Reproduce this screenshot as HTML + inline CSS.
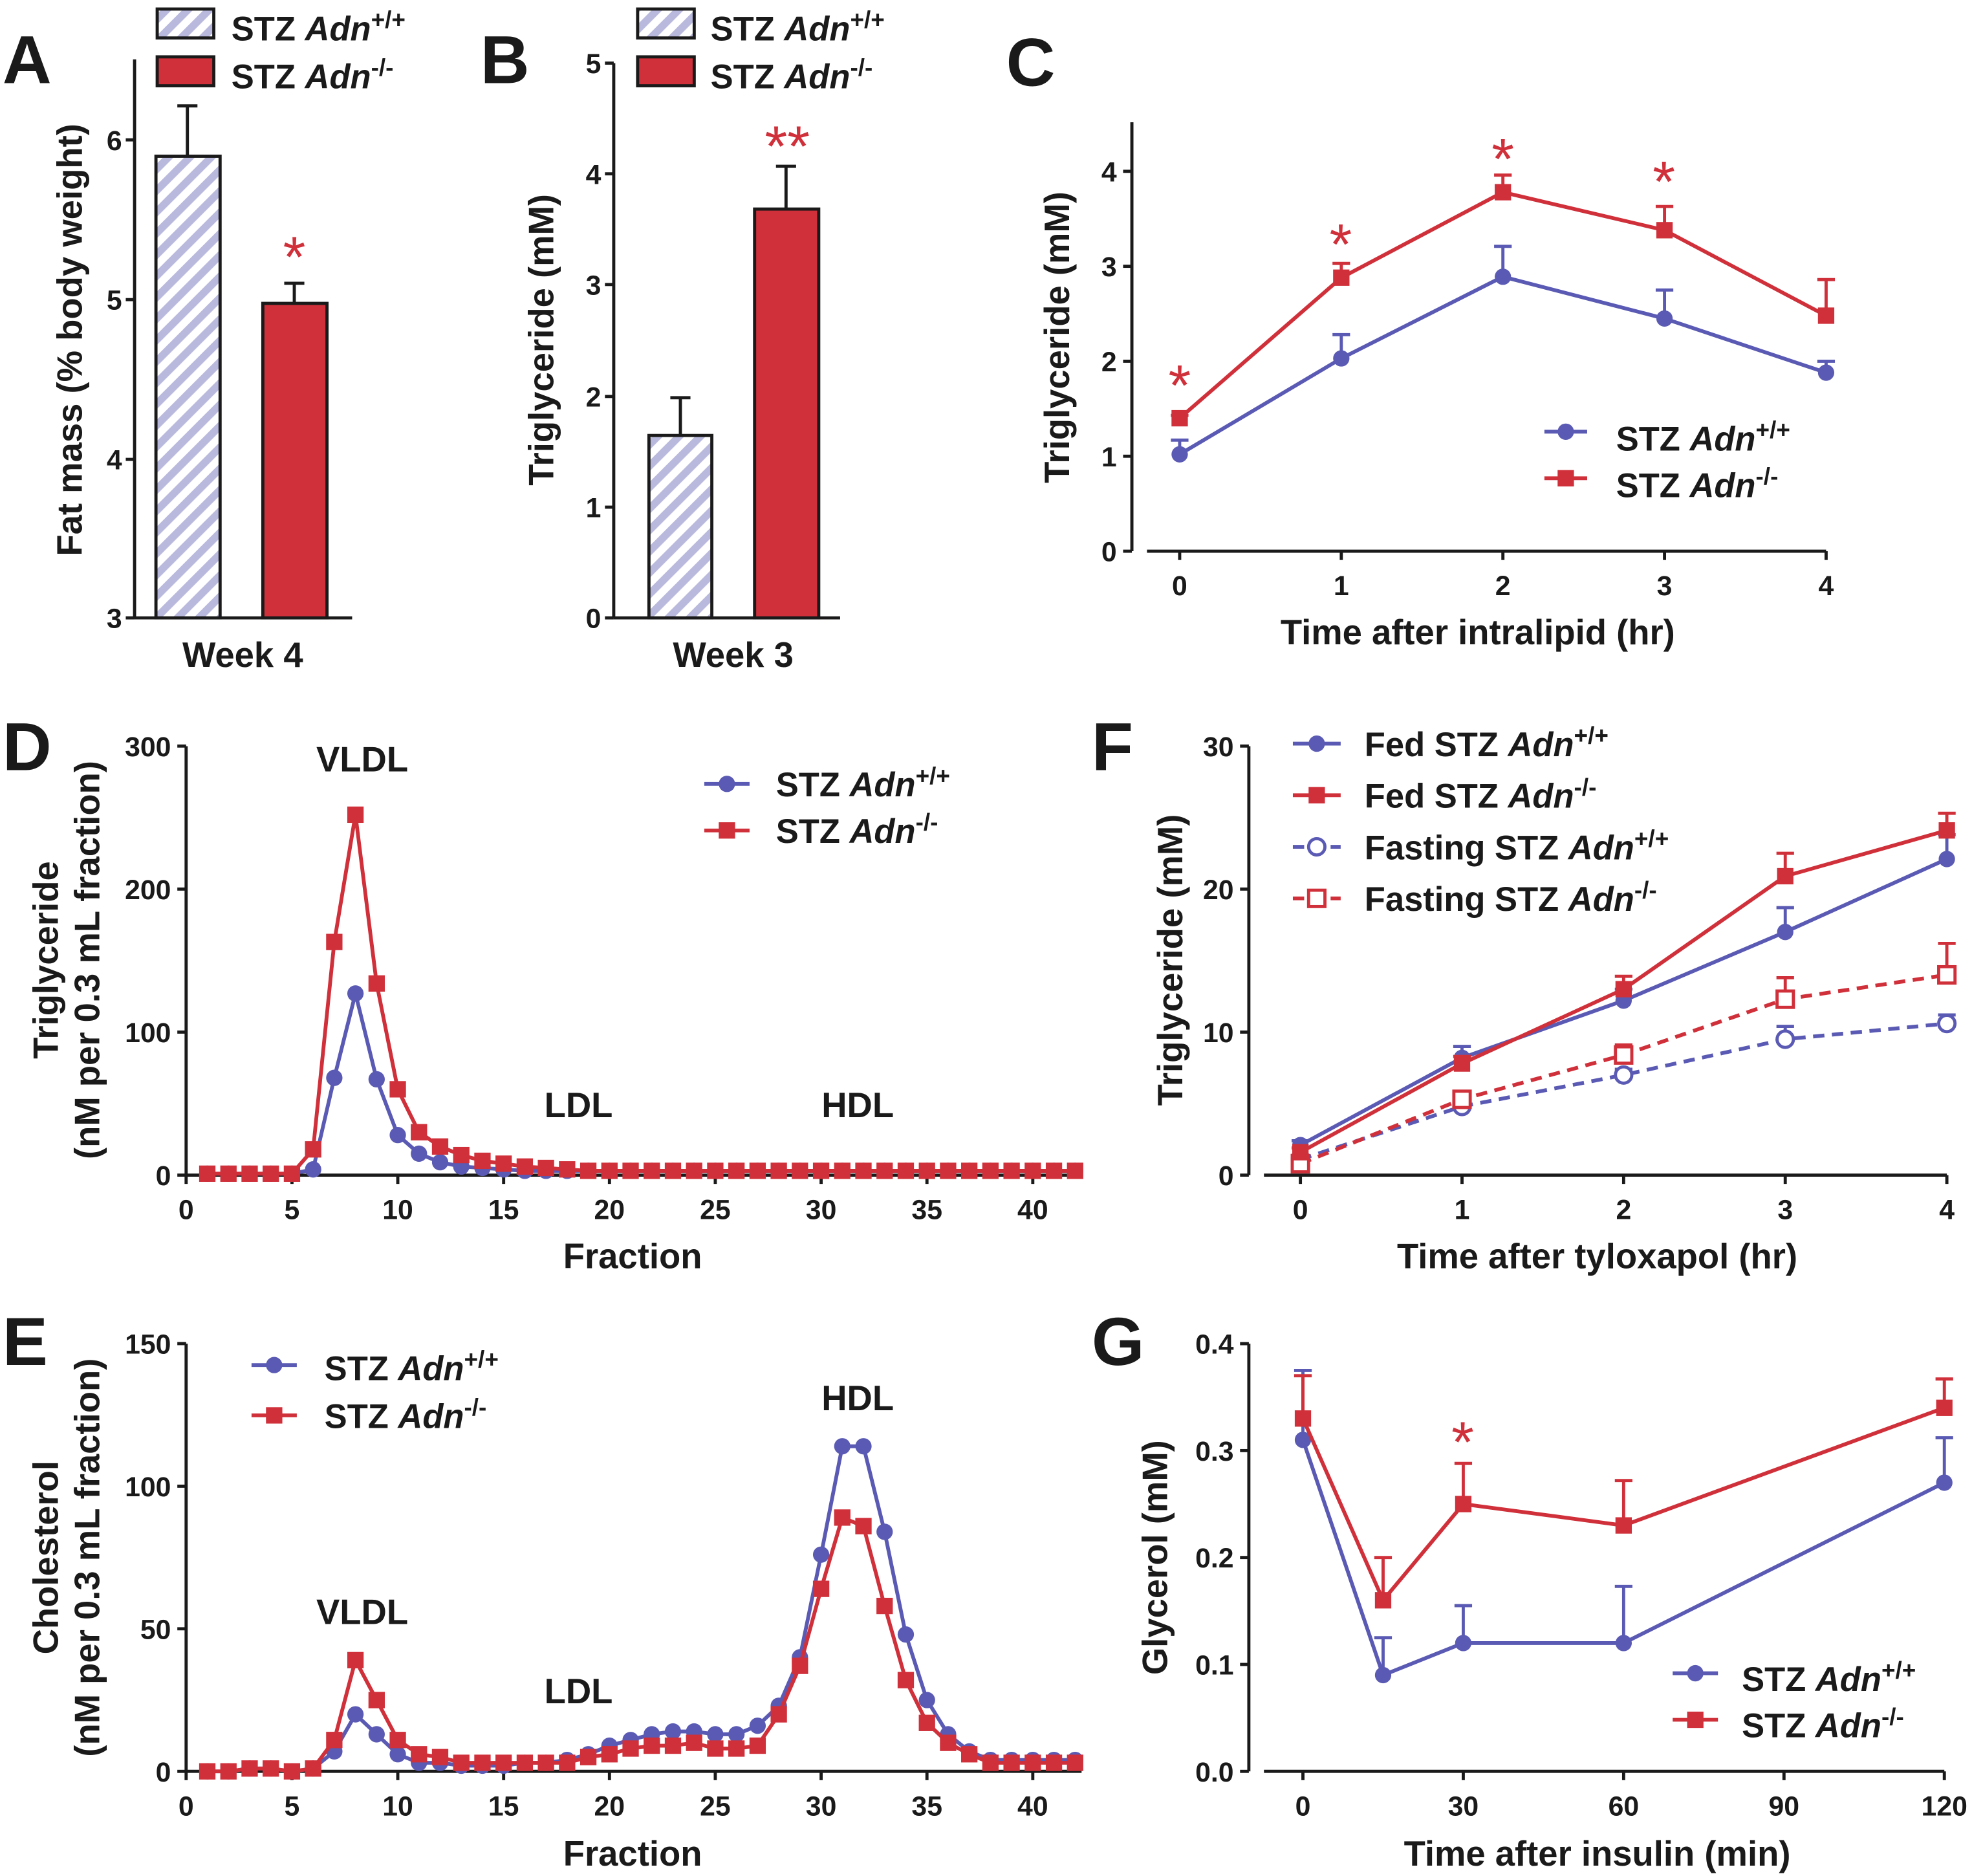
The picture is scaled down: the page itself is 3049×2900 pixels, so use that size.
<!DOCTYPE html>
<html><head><meta charset="utf-8"><style>
html,body{margin:0;padding:0;background:#fff}
svg{display:block}
text{font-family:"Liberation Sans",Arial,sans-serif;font-weight:bold;fill:#1a1a1a}
.t{font-size:22px}.al{font-size:28px}.lg{font-size:27px}.L{font-size:54px}
.st{fill:#d0303a;font-size:46px;font-weight:normal}
</style></head><body>
<svg id="s" width="3049" height="2900" viewBox="0 0 1568 1491" xmlns="http://www.w3.org/2000/svg">
<defs>
<pattern id="h" width="12" height="12" patternUnits="userSpaceOnUse" patternTransform="rotate(45)">
<rect width="12" height="12" fill="#fff"/><rect width="6" height="12" fill="#b9b9dd"/></pattern>
</defs>
<g id="g" stroke="#1a1a1a" stroke-width="2.5" fill="none"></g>
<!-- Panel letters -->
<text class="L" x="2" y="66">A</text><text class="L" x="382" y="66">B</text><text class="L" x="800" y="68">C</text>
<text class="L" x="2" y="612">D</text><text class="L" x="868" y="612">F</text>
<text class="L" x="2" y="1085">E</text><text class="L" x="868" y="1085">G</text>
<!-- A -->
<rect x="125" y="7" width="45" height="23" fill="url(#h)" stroke="#1a1a1a" stroke-width="2.5"/>
<rect x="125" y="45" width="45" height="23" fill="#d0303a" stroke="#1a1a1a" stroke-width="2.5"/>
<text class="lg" x="184" y="32">STZ <tspan font-style="italic">Adn</tspan><tspan dy="-10" font-size="19">+/+</tspan></text>
<text class="lg" x="184" y="70">STZ <tspan font-style="italic">Adn</tspan><tspan dy="-10" font-size="19">-/-</tspan></text>
<rect x="124" y="124" width="51" height="367" fill="url(#h)" stroke="#1a1a1a" stroke-width="2.5"/>
<rect x="209" y="241" width="51" height="250" fill="#d0303a" stroke="#1a1a1a" stroke-width="2.5"/>
<text class="st" x="234" y="220" text-anchor="middle">*</text>
<text class="t" x="97" y="119" text-anchor="end">6</text><text class="t" x="97" y="246" text-anchor="end">5</text>
<text class="t" x="97" y="373" text-anchor="end">4</text><text class="t" x="97" y="499" text-anchor="end">3</text>
<text class="al" x="193" y="530" text-anchor="middle">Week 4</text>
<text class="al" transform="translate(65,270) rotate(-90)" text-anchor="middle">Fat mass (% body weight)</text>
<!-- B -->
<rect x="507" y="7" width="45" height="23" fill="url(#h)" stroke="#1a1a1a" stroke-width="2.5"/>
<rect x="507" y="45" width="45" height="23" fill="#d0303a" stroke="#1a1a1a" stroke-width="2.5"/>
<text class="lg" x="565" y="32">STZ <tspan font-style="italic">Adn</tspan><tspan dy="-10" font-size="19">+/+</tspan></text>
<text class="lg" x="565" y="70">STZ <tspan font-style="italic">Adn</tspan><tspan dy="-10" font-size="19">-/-</tspan></text>
<rect x="516" y="346" width="50" height="145" fill="url(#h)" stroke="#1a1a1a" stroke-width="2.5"/>
<rect x="600" y="166" width="51" height="325" fill="#d0303a" stroke="#1a1a1a" stroke-width="2.5"/>
<text class="st" x="626" y="132" text-anchor="middle">**</text>
<text class="t" x="478" y="499" text-anchor="end">0</text><text class="t" x="478" y="411" text-anchor="end">1</text>
<text class="t" x="478" y="323" text-anchor="end">2</text><text class="t" x="478" y="234" text-anchor="end">3</text>
<text class="t" x="478" y="146" text-anchor="end">4</text><text class="t" x="478" y="58" text-anchor="end">5</text>
<text class="al" x="583" y="530" text-anchor="middle">Week 3</text>
<text class="al" transform="translate(440,270) rotate(-90)" text-anchor="middle">Triglyceride (mM)</text>
<!-- C -->
<text class="al" x="1175" y="512" text-anchor="middle">Time after intralipid (hr)</text>
<text class="al" transform="translate(850,268) rotate(-90)" text-anchor="middle">Triglyceride (mM)</text>
<text class="lg" x="1285" y="358">STZ <tspan font-style="italic">Adn</tspan><tspan dy="-10" font-size="19">+/+</tspan></text>
<text class="lg" x="1285" y="395">STZ <tspan font-style="italic">Adn</tspan><tspan dy="-10" font-size="19">-/-</tspan></text>
<text class="st" x="938" y="322" text-anchor="middle">*</text>
<text class="st" x="1066" y="210" text-anchor="middle">*</text>
<text class="st" x="1195" y="142" text-anchor="middle">*</text>
<text class="st" x="1323" y="160" text-anchor="middle">*</text>
<!-- D -->
<text class="al" x="288" y="613" text-anchor="middle">VLDL</text>
<text class="al" x="460" y="888" text-anchor="middle">LDL</text>
<text class="al" x="682" y="888" text-anchor="middle">HDL</text>
<text class="lg" x="617" y="633">STZ <tspan font-style="italic">Adn</tspan><tspan dy="-10" font-size="19">+/+</tspan></text>
<text class="lg" x="617" y="670">STZ <tspan font-style="italic">Adn</tspan><tspan dy="-10" font-size="19">-/-</tspan></text>
<text class="al" x="503" y="1008" text-anchor="middle">Fraction</text>
<text class="al" transform="translate(46,763) rotate(-90)" text-anchor="middle">Triglyceride</text>
<text class="al" transform="translate(79,763) rotate(-90)" text-anchor="middle">(nM per 0.3 mL fraction)</text>
<!-- E -->
<text class="al" x="288" y="1291" text-anchor="middle">VLDL</text>
<text class="al" x="460" y="1354" text-anchor="middle">LDL</text>
<text class="al" x="682" y="1121" text-anchor="middle">HDL</text>
<text class="lg" x="258" y="1097">STZ <tspan font-style="italic">Adn</tspan><tspan dy="-10" font-size="19">+/+</tspan></text>
<text class="lg" x="258" y="1135">STZ <tspan font-style="italic">Adn</tspan><tspan dy="-10" font-size="19">-/-</tspan></text>
<text class="al" x="503" y="1483" text-anchor="middle">Fraction</text>
<text class="al" transform="translate(46,1238) rotate(-90)" text-anchor="middle">Cholesterol</text>
<text class="al" transform="translate(79,1238) rotate(-90)" text-anchor="middle">(nM per 0.3 mL fraction)</text>
<!-- F -->
<text class="lg" x="1085" y="601">Fed STZ <tspan font-style="italic">Adn</tspan><tspan dy="-10" font-size="19">+/+</tspan></text>
<text class="lg" x="1085" y="642">Fed STZ <tspan font-style="italic">Adn</tspan><tspan dy="-10" font-size="19">-/-</tspan></text>
<text class="lg" x="1085" y="683">Fasting STZ <tspan font-style="italic">Adn</tspan><tspan dy="-10" font-size="19">+/+</tspan></text>
<text class="lg" x="1085" y="724">Fasting STZ <tspan font-style="italic">Adn</tspan><tspan dy="-10" font-size="19">-/-</tspan></text>
<text class="al" x="1270" y="1008" text-anchor="middle">Time after tyloxapol (hr)</text>
<text class="al" transform="translate(940,763) rotate(-90)" text-anchor="middle">Triglyceride (mM)</text>
<!-- G -->
<text class="lg" x="1385" y="1344">STZ <tspan font-style="italic">Adn</tspan><tspan dy="-10" font-size="19">+/+</tspan></text>
<text class="lg" x="1385" y="1381">STZ <tspan font-style="italic">Adn</tspan><tspan dy="-10" font-size="19">-/-</tspan></text>
<text class="al" x="1270" y="1483" text-anchor="middle">Time after insulin (min)</text>
<text class="al" transform="translate(928,1238) rotate(-90)" text-anchor="middle">Glycerol (mM)</text>
<text class="st" x="1163" y="1162" text-anchor="middle">*</text>
<g id="d"></g>
<g id="tk"></g>
</svg>
<script>
var NS="http://www.w3.org/2000/svg",G=document.getElementById('g'),D=document.getElementById('d'),TK=document.getElementById('tk');
function el(p,t,a){var e=document.createElementNS(NS,t);for(var k in a)e.setAttribute(k,a[k]);p.appendChild(e);return e}
function ln(x1,y1,x2,y2,p,c,w,da){var a={x1:x1,y1:y1,x2:x2,y2:y2,stroke:c||'#1a1a1a','stroke-width':w||2.5};if(da)a['stroke-dasharray']=da;el(p||G,'line',a)}
function tx(x,y,s){var e=el(TK,'text',{x:x,y:y,'class':'t','text-anchor':'middle'});e.textContent=s}
function txr(x,y,s){var e=el(TK,'text',{x:x,y:y,'class':'t','text-anchor':'end'});e.textContent=s}
var B='#5a5ab4',R='#d0303a';
ln(107,47,107,491);ln(107,491,280,491);[111,238,365,491].forEach(y=>ln(100,y,107,y));
ln(149,124,149,84);ln(141,84,157,84);ln(234,241,234,225);ln(226,225,242,225);
ln(488,50,488,491);ln(488,491,668,491);[50,138,226,315,403,491].forEach(y=>ln(481,y,488,y));
ln(541,346,541,316);ln(533,316,549,316);ln(625,166,625,132);ln(617,132,633,132);
function mark(x,y,c,sh,open){if(sh=='c')el(D,'circle',{cx:x,cy:y,r:6.5,fill:open?'#fff':c,stroke:c,'stroke-width':open?2.5:0});
 else el(D,'rect',{x:x-6.5,y:y-6.5,width:13,height:13,fill:open?'#fff':c,stroke:c,'stroke-width':open?2.5:0});}
function series(xs,ys,errs,fx,fy,c,sh,open,da){var pts=xs.map((x,i)=>[fx(x),fy(ys[i])]);
 el(D,'polyline',{points:pts.map(p=>p.join(',')).join(' '),fill:'none',stroke:c,'stroke-width':3,'stroke-dasharray':da||''});
 if(errs)pts.forEach((p,i)=>{var ye=fy(ys[i]+errs[i]);ln(p[0],p[1],p[0],ye,D,c,2.5);ln(p[0]-7,ye,p[0]+7,ye,D,c,2.5)});
 pts.forEach(p=>mark(p[0],p[1],c,sh,open));}
function legend(x1,x2,y,c,sh,open,da){ln(x1,y,x2,y,D,c,3,da);mark((x1+x2)/2,y,c,sh,open)}
var cx=v=>938+v*128.5,cy=v=>438-v*75.5;
ln(900,97,900,438);ln(912,438,1452,438);[0,1,2,3,4].forEach(v=>{ln(893,cy(v),900,cy(v));txr(888,cy(v)+8,v);ln(cx(v),438,cx(v),445);tx(cx(v),473,v)});
series([0,1,2,3,4],[1.02,2.03,2.89,2.45,1.88],[.15,.25,.32,.3,.12],cx,cy,B,'c');
series([0,1,2,3,4],[1.4,2.88,3.78,3.38,2.48],[.03,.15,.18,.25,.38],cx,cy,R,'s');
legend(1228,1262,343,B,'c');legend(1228,1262,380,R,'s');
var dx=v=>148+v*16.83,dy=v=>934-v*1.137;
ln(148,593,148,934);ln(148,934,860,934);[0,100,200,300].forEach(v=>{ln(141,dy(v),148,dy(v));txr(136,dy(v)+8,v)});
for(var v=0;v<=40;v+=5){ln(dx(v),934,dx(v),941);tx(dx(v),969,v)}
var f=[];for(var i=1;i<=42;i++)f.push(i);
var bd={6:4,7:68,8:127,9:67,10:28,11:15,12:9,13:6,14:5,15:4},rd={6:18,7:163,8:252,9:134,10:60,11:30,12:20,13:14,14:10,15:8,16:6,17:5,18:4};
series(f,f.map(i=>bd[i]!=null?bd[i]:(i<6?1:3)),null,dx,dy,B,'c');
series(f,f.map(i=>rd[i]!=null?rd[i]:(i<6?1:3)),null,dx,dy,R,'s');
legend(560,596,623,B,'c');legend(560,596,660,R,'s');
var ey=v=>1408-v*2.267;
ln(148,1068,148,1408);ln(148,1408,860,1408);[0,50,100,150].forEach(v=>{ln(141,ey(v),148,ey(v));txr(136,ey(v)+8,v)});
for(var v=0;v<=40;v+=5){ln(dx(v),1408,dx(v),1415);tx(dx(v),1443,v)}
var eb=[0,0,1,1,0,1,7,20,13,6,3,3,2,2,2,3,3,4,6,9,11,13,14,14,13,13,16,23,40,76,114,114,84,48,25,13,7,4,4,4,4,4];
var er=[0,0,1,1,0,1,11,39,25,11,6,5,3,3,3,3,3,3,5,6,8,9,9,10,8,8,9,20,37,64,89,86,58,32,17,10,6,3,3,3,3,3];
series(f,eb,null,dx,ey,B,'c');series(f,er,null,dx,ey,R,'s');
legend(200,236,1085,B,'c');legend(200,236,1125,R,'s');
var fx=v=>1034+v*128.5,fy=v=>934-v*11.37;
ln(993,593,993,934);ln(1005,934,1548,934);[0,10,20,30].forEach(v=>{ln(986,fy(v),993,fy(v));txr(981,fy(v)+8,v)});
[0,1,2,3,4].forEach(v=>{ln(fx(v),934,fx(v),941);tx(fx(v),969,v)});
var T=[0,1,2,3,4];
series(T,[1.1,4.8,7,9.5,10.6],[.3,.4,.4,.9,.6],fx,fy,B,'c',1,'9,6');
series(T,[.8,5.3,8.4,12.3,14],[.2,.4,.7,1.5,2.2],fx,fy,R,'s',1,'9,6');
series(T,[2.1,8.2,12.2,17,22.1],[.3,.8,.8,1.7,1.7],fx,fy,B,'c');
series(T,[1.6,7.8,13,20.9,24.1],[.3,.5,.9,1.6,1.2],fx,fy,R,'s');
legend(1028,1066,591,B,'c');legend(1028,1066,632,R,'s');legend(1028,1066,673,B,'c',1,'9,6');legend(1028,1066,714,R,'s',1,'9,6');
var gx=v=>1036+v*4.25,gy=v=>1408-v*850;
ln(993,1068,993,1408);ln(1005,1408,1546,1408);[0,.1,.2,.3,.4].forEach(v=>{ln(986,gy(v),993,gy(v));txr(981,gy(v)+8,v.toFixed(1))});
[0,30,60,90,120].forEach(v=>{ln(gx(v),1408,gx(v),1415);tx(gx(v),1443,v)});
var M=[0,15,30,60,120];
series(M,[.31,.09,.12,.12,.27],[.065,.035,.035,.053,.042],gx,gy,B,'c');
series(M,[.33,.16,.25,.23,.34],[.04,.04,.038,.042,.027],gx,gy,R,'s');
legend(1330,1366,1330,B,'c');legend(1330,1366,1367,R,'s');
</script>
</body></html>
